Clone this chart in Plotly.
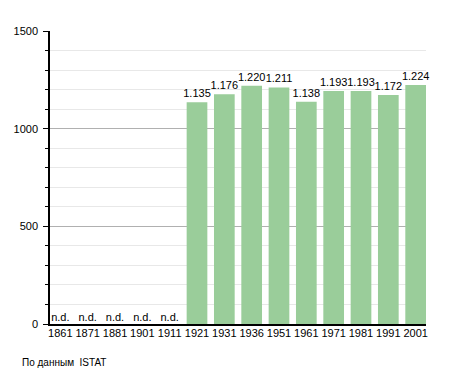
import plotly.graph_objects as go

years = ["1861", "1871", "1881", "1901", "1911", "1921", "1931", "1936", "1951", "1961", "1971", "1981", "1991", "2001"]
population = [None, None, None, None, None, 1135, 1176, 1220, 1211, 1138, 1193, 1193, 1172, 1224]
labels = ["n.d." if v is None else f"{v:,}".replace(",", ".") for v in population]
source_note = "По данным  ISTAT"

font = "Liberation Sans, Arial, sans-serif"
bar_w = 0.757

bar_x = [y for y, v in zip(years, population) if v is not None]
bar_y = [v for v in population if v is not None]
bar_t = [l for l, v in zip(labels, population) if v is not None]
nd_x = [y for y, v in zip(years, population) if v is None]

fig = go.Figure()
fig.add_trace(go.Bar(
    x=bar_x, y=bar_y, text=bar_t, textposition="outside",
    textfont=dict(size=11, color="black", family=font),
    constraintext="none",
    marker=dict(color="#9acd9a", line=dict(width=0)),
    width=bar_w, cliponaxis=False, hoverinfo="skip",
))
fig.add_trace(go.Scatter(
    x=nd_x, y=[0] * len(nd_x), mode="text", text=["n.d."] * len(nd_x),
    textposition="top center", textfont=dict(size=11, color="black", family=font),
    cliponaxis=False, hoverinfo="skip",
))

# page body has an 8px default margin, so the figure is sized to fit the window
fig.update_layout(
    width=447, height=365,
    margin=dict(l=42, r=29, t=23, b=49),
    paper_bgcolor="white", plot_bgcolor="white",
    showlegend=False,
    uniformtext=dict(minsize=11, mode="show"),
    font=dict(family=font, size=11, color="black"),
    xaxis=dict(
        type="category", categoryorder="array", categoryarray=years,
        showline=True, linecolor="black", linewidth=1.5,
        ticks="", showgrid=False, tickfont=dict(size=11),
        ticklabelstandoff=-2, automargin=False,
        range=[-bar_w / 2, len(years) - 1 + bar_w / 2],
    ),
    yaxis=dict(
        range=[0, 1500], dtick=500, tick0=0,
        showline=True, linecolor="black", linewidth=1.5,
        ticks="outside", ticklen=5, tickcolor="black",
        ticklabelstandoff=3, automargin=False,
        gridcolor="#b0b0b0", gridwidth=1,
        zeroline=False,
        minor=dict(dtick=100, showgrid=True, gridcolor="#e8e8e8",
                   ticks="outside", ticklen=3, tickcolor="black"),
        tickfont=dict(size=11),
    ),
    annotations=[dict(
        text=source_note, xref="paper", yref="paper",
        x=-0.08, y=-0.13, xanchor="left", yanchor="middle",
        showarrow=False, font=dict(size=10, family=font),
    )],
)

fig.write_html("out.html")
